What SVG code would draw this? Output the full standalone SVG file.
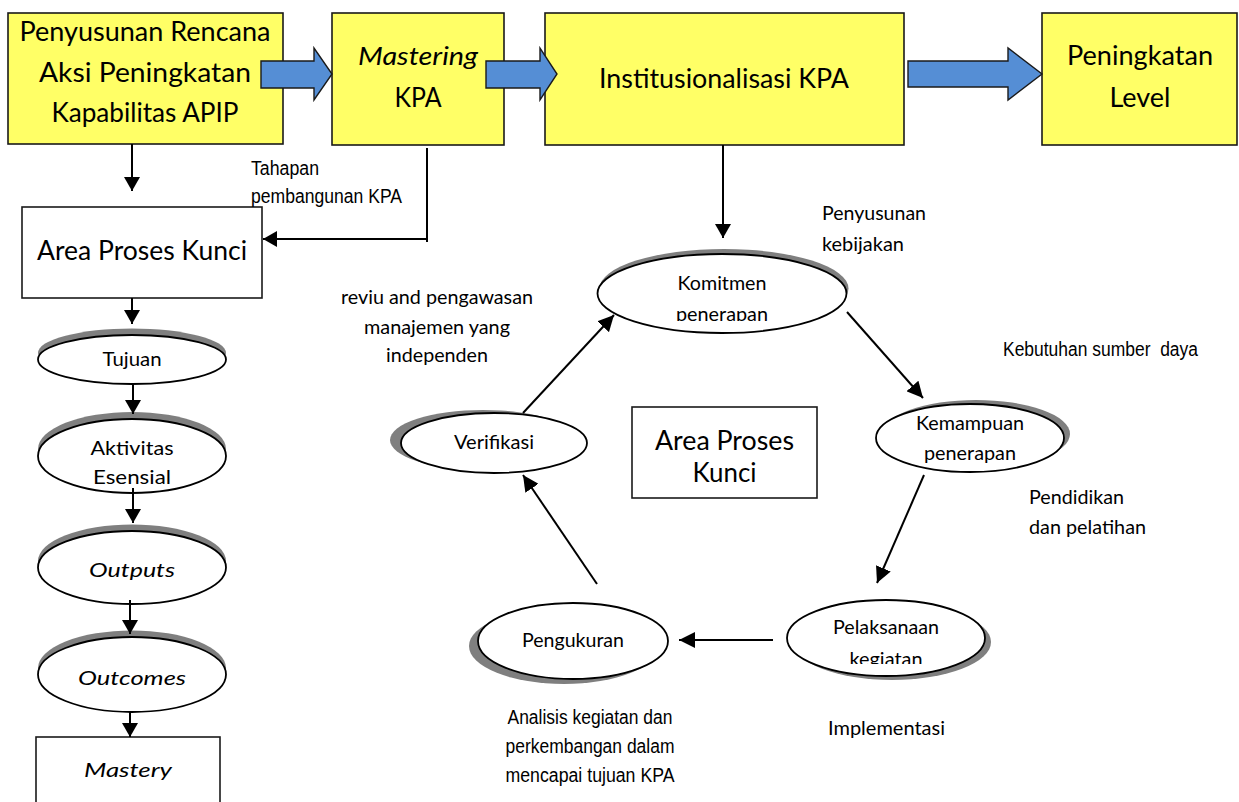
<svg xmlns="http://www.w3.org/2000/svg" width="1239" height="802" viewBox="0 0 1239 802">
  <style>
    .box { fill: #FFFF66; stroke: #1a1a1a; stroke-width: 1.6; }
    .plain { fill: #ffffff; stroke: #1a1a1a; stroke-width: 1.6; }
    .blk { fill: #558ED5; stroke: #1a1a1a; stroke-width: 1.4; stroke-linejoin: miter; }
    .ell { fill: #ffffff; stroke: #000000; stroke-width: 1.8; }
    .shd { fill: #7f7f7f; }
    .big { font-family: Lato, "Open Sans", sans-serif; font-size: 26px; fill: #000; text-anchor: middle; }
    .mid { font-family: Lato, "Open Sans", sans-serif; font-size: 19px; fill: #000; text-anchor: middle; }
    .lbl { font-family: Lato, "Open Sans", sans-serif; font-size: 19px; fill: #000; }
    .nar { font-family: "Liberation Sans Narrow", "Liberation Sans", Arial, sans-serif; font-size: 20px; fill: #000; }
    .it { font-style: italic; }
    .conn line, .conn path { stroke: #000; stroke-width: 2; fill: none; }
  </style>
  <defs>
    <marker id="ah" viewBox="0 0 16 16" refX="16" refY="8" markerWidth="16" markerHeight="16" markerUnits="userSpaceOnUse" orient="auto">
      <path d="M0,0 L16,8 L0,16 z" fill="#000"/>
    </marker>
    <marker id="ahs" viewBox="0 0 14 16" refX="14" refY="8" markerWidth="14" markerHeight="16" markerUnits="userSpaceOnUse" orient="auto">
      <path d="M0,0 L14,8 L0,16 z" fill="#000"/>
    </marker>
    <clipPath id="clipKom"><rect x="600" y="250" width="250" height="71"/></clipPath>
    <clipPath id="clipPel"><rect x="780" y="595" width="220" height="69"/></clipPath>
  </defs>

  <!-- top row of stages -->
  <g id="stage-rencana">
    <rect class="box" x="8" y="13" width="275" height="131"/>
    <text class="big" x="145" y="41" textLength="251" lengthAdjust="spacingAndGlyphs">Penyusunan Rencana</text>
    <text class="big" x="145" y="82" textLength="212" lengthAdjust="spacingAndGlyphs">Aksi Peningkatan</text>
    <text class="big" x="145" y="122" textLength="187" lengthAdjust="spacingAndGlyphs">Kapabilitas APIP</text>
  </g>
  <g id="stage-mastering">
    <rect class="box" x="332" y="13" width="172" height="132"/>
    <text class="big it" x="418" y="65" textLength="120" lengthAdjust="spacingAndGlyphs">Mastering</text>
    <text class="big" x="418" y="107" textLength="47" lengthAdjust="spacingAndGlyphs">KPA</text>
  </g>
  <g id="stage-institusionalisasi">
    <rect class="box" x="545" y="13" width="359" height="132"/>
    <text class="big" x="724" y="88" textLength="250" lengthAdjust="spacingAndGlyphs">Institusionalisasi KPA</text>
  </g>
  <g id="stage-level">
    <rect class="box" x="1042" y="13" width="195" height="132"/>
    <text class="big" x="1140" y="65" textLength="146" lengthAdjust="spacingAndGlyphs">Peningkatan</text>
    <text class="big" x="1140" y="107" textLength="61" lengthAdjust="spacingAndGlyphs">Level</text>
  </g>

  <!-- block arrows between stages -->
  <g id="flow-arrows">
    <polygon class="blk" points="261,61 314,61 314,48 332,74 314,100 314,88 261,88"/>
    <polygon class="blk" points="486,61 540,61 540,48 557,74 540,100 540,88 486,88"/>
    <polygon class="blk" points="908,61 1008,61 1008,48 1042,74 1008,100 1008,87 908,87"/>
  </g>

  <!-- left column -->
  <g id="area-proses-kunci">
    <rect class="plain" x="22" y="207" width="240" height="91"/>
    <text class="big" x="142" y="260" textLength="210" lengthAdjust="spacingAndGlyphs">Area Proses Kunci</text>
  </g>
  <g id="tujuan">
    <ellipse class="shd" cx="132" cy="353" rx="94" ry="24.5"/>
    <ellipse class="ell" cx="132" cy="359.5" rx="94" ry="24.5"/>
    <text class="mid" x="132" y="366" textLength="59" lengthAdjust="spacingAndGlyphs">Tujuan</text>
  </g>
  <g id="aktivitas">
    <ellipse class="shd" cx="132" cy="449" rx="94" ry="37"/>
    <ellipse class="ell" cx="132" cy="456" rx="94" ry="37"/>
    <text class="mid" x="132" y="455" font-size="21.5" textLength="83" lengthAdjust="spacingAndGlyphs">Aktivitas</text>
    <text class="mid" x="132" y="484" font-size="21.5" textLength="78" lengthAdjust="spacingAndGlyphs">Esensial</text>
  </g>
  <g id="outputs">
    <ellipse class="shd" cx="132" cy="561" rx="94" ry="36.5"/>
    <ellipse class="ell" cx="132" cy="567.5" rx="94" ry="36.5"/>
    <text class="mid it" x="132" y="577" font-size="23" textLength="86" lengthAdjust="spacingAndGlyphs">Outputs</text>
  </g>
  <g id="outcomes">
    <ellipse class="shd" cx="132" cy="668" rx="94" ry="37.5"/>
    <ellipse class="ell" cx="132" cy="674.5" rx="94" ry="37.5"/>
    <text class="mid it" x="132" y="685" font-size="23" textLength="108" lengthAdjust="spacingAndGlyphs">Outcomes</text>
  </g>
  <g id="mastery">
    <rect class="plain" x="36" y="737" width="184" height="80"/>
    <text class="mid it" x="128" y="777" font-size="23" textLength="88" lengthAdjust="spacingAndGlyphs">Mastery</text>
  </g>

  <!-- cycle of the key process area -->
  <g id="komitmen">
    <ellipse class="shd" cx="724" cy="288.5" rx="124.5" ry="39.5"/>
    <ellipse class="ell" cx="722" cy="293.5" rx="124.5" ry="39.5"/>
    <g clip-path="url(#clipKom)">
      <text class="mid" x="722" y="290" textLength="89" lengthAdjust="spacingAndGlyphs">Komitmen</text>
      <text class="mid" x="722" y="321" textLength="92" lengthAdjust="spacingAndGlyphs">penerapan</text>
    </g>
  </g>
  <g id="kemampuan">
    <ellipse class="shd" cx="976" cy="434" rx="94" ry="34"/>
    <ellipse class="ell" cx="970" cy="438" rx="94" ry="34"/>
    <text class="mid" x="970" y="430" textLength="108" lengthAdjust="spacingAndGlyphs">Kemampuan</text>
    <text class="mid" x="970" y="460" textLength="92" lengthAdjust="spacingAndGlyphs">penerapan</text>
  </g>
  <g id="pelaksanaan">
    <ellipse class="shd" cx="892" cy="642" rx="99" ry="38"/>
    <ellipse class="ell" cx="886" cy="638" rx="99" ry="38"/>
    <g clip-path="url(#clipPel)">
      <text class="mid" x="886" y="634" textLength="106" lengthAdjust="spacingAndGlyphs">Pelaksanaan</text>
      <text class="mid" x="886" y="666" textLength="73" lengthAdjust="spacingAndGlyphs">kegiatan</text>
    </g>
  </g>
  <g id="pengukuran">
    <ellipse class="shd" cx="564" cy="646" rx="95" ry="38"/>
    <ellipse class="ell" cx="573" cy="641" rx="95" ry="38"/>
    <text class="mid" x="573" y="647" textLength="102" lengthAdjust="spacingAndGlyphs">Pengukuran</text>
  </g>
  <g id="verifikasi">
    <ellipse class="shd" cx="483" cy="440" rx="93" ry="30"/>
    <ellipse class="ell" cx="494" cy="443" rx="93" ry="30"/>
    <text class="mid" x="494" y="449" textLength="80" lengthAdjust="spacingAndGlyphs">Verifikasi</text>
  </g>
  <g id="area-proses-kunci-center">
    <rect class="plain" x="632" y="407" width="185" height="91"/>
    <text class="big" x="724.5" y="450" textLength="139" lengthAdjust="spacingAndGlyphs">Area Proses</text>
    <text class="big" x="724.5" y="482" textLength="64" lengthAdjust="spacingAndGlyphs">Kunci</text>
  </g>

  <!-- connectors -->
  <g id="connectors" class="conn">
    <line x1="132" y1="144" x2="132" y2="191" marker-end="url(#ahs)"/>
    <path d="M427,148 V242"/>
    <line x1="427" y1="239" x2="263" y2="239" marker-end="url(#ahs)"/>
    <line x1="132" y1="298" x2="132" y2="324" marker-end="url(#ahs)"/>
    <line x1="133" y1="384" x2="133" y2="414" marker-end="url(#ahs)"/>
    <line x1="133" y1="488" x2="133" y2="523" marker-end="url(#ahs)"/>
    <line x1="130" y1="600" x2="130" y2="634" marker-end="url(#ahs)"/>
    <line x1="130" y1="712" x2="130" y2="737" marker-end="url(#ahs)"/>
    <line x1="723" y1="145" x2="723" y2="238" marker-end="url(#ahs)"/>
    <line x1="847" y1="312" x2="923" y2="398" marker-end="url(#ah)"/>
    <line x1="924" y1="475" x2="877" y2="583" marker-end="url(#ah)"/>
    <line x1="773" y1="640" x2="679" y2="640" marker-end="url(#ah)"/>
    <line x1="597" y1="584" x2="523" y2="475" marker-end="url(#ah)"/>
    <line x1="523" y1="413" x2="614" y2="315" marker-end="url(#ah)"/>
  </g>

  <!-- annotations -->
  <g id="labels">
    <text class="nar" x="251" y="175" textLength="68" lengthAdjust="spacingAndGlyphs">Tahapan</text>
    <text class="nar" x="251" y="203" textLength="151" lengthAdjust="spacingAndGlyphs">pembangunan KPA</text>
    <text class="lbl" x="822" y="220" textLength="104" lengthAdjust="spacingAndGlyphs">Penyusunan</text>
    <text class="lbl" x="822" y="251" textLength="82" lengthAdjust="spacingAndGlyphs">kebijakan</text>
    <text class="mid" x="437" y="304" textLength="192" lengthAdjust="spacingAndGlyphs">reviu and pengawasan</text>
    <text class="mid" x="437" y="334" textLength="146" lengthAdjust="spacingAndGlyphs">manajemen yang</text>
    <text class="mid" x="437" y="362" textLength="102" lengthAdjust="spacingAndGlyphs">independen</text>
    <text class="nar" x="1003" y="356" xml:space="preserve" textLength="195" lengthAdjust="spacingAndGlyphs">Kebutuhan sumber  daya</text>
    <text class="lbl" x="1029" y="504" textLength="95" lengthAdjust="spacingAndGlyphs">Pendidikan</text>
    <text class="lbl" x="1029" y="534" textLength="117" lengthAdjust="spacingAndGlyphs">dan pelatihan</text>
    <text class="nar" x="590" y="724" text-anchor="middle" textLength="165" lengthAdjust="spacingAndGlyphs">Analisis kegiatan dan</text>
    <text class="nar" x="590" y="753" text-anchor="middle" textLength="169" lengthAdjust="spacingAndGlyphs">perkembangan dalam</text>
    <text class="nar" x="590" y="782" text-anchor="middle" textLength="169" lengthAdjust="spacingAndGlyphs">mencapai tujuan KPA</text>
    <text class="lbl" x="828" y="735" textLength="117" lengthAdjust="spacingAndGlyphs">Implementasi</text>
  </g>
</svg>
